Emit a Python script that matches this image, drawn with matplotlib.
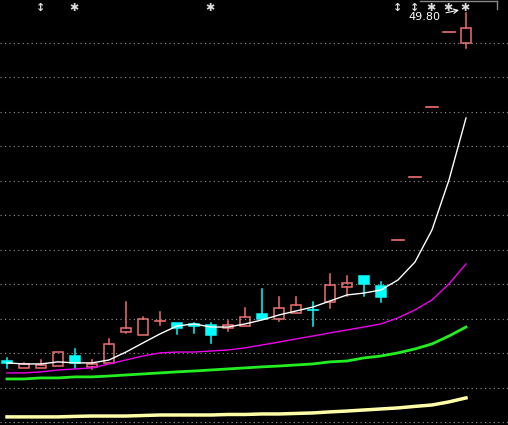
import matplotlib
matplotlib.use("Agg")
import matplotlib.pyplot as plt
import numpy as np

opens  = [29.62,29.23,29.23,29.35,29.91,29.26,29.52,31.32,31.15,31.90,31.83,31.77,31.71,31.55,31.67,32.35,32.07,32.42,32.56,33.03,33.93,34.55,33.97,36.64,40.29,44.35,48.68,48.04]
highs  = [29.80,29.51,29.68,30.14,30.32,29.68,30.90,33.04,32.19,32.46,31.83,31.84,31.84,31.94,32.70,33.80,33.33,33.33,33.04,34.67,34.55,34.55,34.22,36.64,40.29,44.35,48.68,49.80]
lows   = [29.22,29.23,29.22,29.35,29.23,29.16,29.51,31.25,31.15,31.71,31.19,31.26,30.68,31.38,31.67,32.07,31.96,32.42,31.67,32.68,33.41,33.41,33.06,36.64,40.29,44.35,48.68,47.78]
closes = [29.49,29.43,29.39,30.14,29.51,29.45,30.61,31.54,32.06,31.94,31.55,31.67,31.15,31.71,32.17,32.07,32.68,32.87,32.55,34.01,34.14,34.10,33.35,36.64,40.29,44.35,48.68,48.91]
ma_white = [29.51,29.45,29.45,29.57,29.51,29.51,29.68,30.14,30.67,31.19,31.65,31.77,31.59,31.59,31.77,32.00,32.29,32.52,32.75,33.10,33.45,33.56,33.74,34.32,35.36,37.22,40.12,43.71]
ma_magenta = [28.93,28.93,28.99,29.10,29.16,29.22,29.45,29.68,29.91,30.09,30.14,30.14,30.20,30.26,30.38,30.55,30.72,30.90,31.07,31.25,31.42,31.59,31.77,32.12,32.58,33.16,34.09,35.25]
ma_green = [28.58,28.58,28.64,28.64,28.70,28.70,28.75,28.81,28.87,28.93,28.99,29.04,29.10,29.16,29.22,29.28,29.33,29.39,29.45,29.57,29.62,29.80,29.91,30.09,30.32,30.61,31.07,31.59]
ma_yellow = [26.38,26.38,26.38,26.38,26.41,26.43,26.43,26.43,26.46,26.49,26.49,26.49,26.49,26.52,26.52,26.55,26.55,26.58,26.61,26.67,26.72,26.78,26.84,26.90,26.99,27.07,27.25,27.48]
grid_levels = [48.06,46.06,44.06,42.06,40.06,38.06,36.06,34.06,32.06,30.06,28.06,26.06]
marks = {2:'↕', 4:'✱', 12:'✱', 23:'↕', 24:'↕', 25:'✱', 26:'✱', 27:'✱'}
high_label = "49.80"

RED = '#f07070'; CYAN = '#00ffff'
fig = plt.figure(figsize=(5.08,4.25), dpi=100, facecolor='black')
ax = fig.add_axes([0,0,1,1], facecolor='black')
ax.set_xlim(-7/17, 501/17)
ax.set_ylim(25.91, 50.55)
ax.axis('off')
for g in grid_levels:
    ax.axhline(g, color='#9a9a9a', lw=0.8, ls=(0,(1,3)))

x = np.arange(len(opens))
w = 0.6
for i in x:
    o,h,l,c = opens[i],highs[i],lows[i],closes[i]
    if h == l:
        ax.plot([i-0.35,i+0.35],[c,c], color=RED, lw=1.2)
        continue
    up = c >= o
    col = RED if up else CYAN
    top, bot = max(o,c), min(o,c)
    ax.plot([i,i],[top,h], color=col, lw=1.1)
    ax.plot([i,i],[l,bot], color=col, lw=1.1)
    if top-bot < 0.06:
        ax.plot([i-w/2,i+w/2],[c,c], color=col, lw=1.2)
    elif up:
        ax.add_patch(plt.Rectangle((i-w/2,bot), w, top-bot, fill=False, edgecolor=col, lw=1.1))
    else:
        ax.add_patch(plt.Rectangle((i-w/2,bot), w, top-bot, facecolor=col, edgecolor=col, lw=1.1))

ax.plot(x, ma_yellow, color='#ffffa8', lw=2.5)
ax.plot(x, ma_green, color='#22ee22', lw=2)
ax.plot(x, ma_magenta, color='#ee00ee', lw=1)
ax.plot(x, ma_white, color='white', lw=1)

for i,m in marks.items():
    ax.text(i-0.05, 50.1, m, color='#dddddd', ha='center', va='center', fontsize=8, fontweight='bold')
ax.annotate(high_label, xy=(26.75, 50.0), xytext=(25.5, 49.55), color='white', fontsize=8,
            ha='right', va='center', arrowprops=dict(arrowstyle='->', color='white', lw=0.8))
ax.plot([420/17-7/17, 497/17-7/17],[50.5,50.5], color='#888888', lw=1)
ax.plot([497/17-7/17]*2,[50.5,50.0], color='#888888', lw=1)
fig.savefig('out.png', dpi=100, facecolor='black')
